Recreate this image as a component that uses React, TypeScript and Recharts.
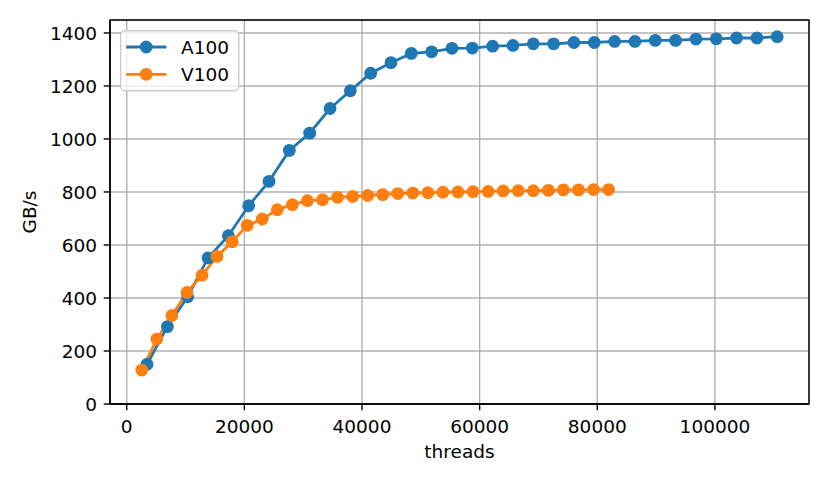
import { LineChart, Line, XAxis, YAxis, CartesianGrid, Legend, ReferenceArea } from "recharts";

const a100Threads = [
  3456, 6912, 10368, 13824, 17280, 20736, 24192, 27648, 31104, 34560, 38016,
  41472, 44928, 48384, 51840, 55296, 58752, 62208, 65664, 69120, 72576, 76032,
  79488, 82944, 86400, 89856, 93312, 96768, 100224, 103680, 107136, 110592,
];
const a100Bandwidth = [
  150, 292, 405, 551, 635, 748, 840, 957, 1022, 1115, 1182, 1248, 1288, 1323,
  1329, 1342, 1343, 1350, 1353, 1359, 1359, 1364, 1364, 1368, 1368, 1372, 1372,
  1377, 1378, 1381, 1381, 1386,
];
const v100Threads = [
  2560, 5120, 7680, 10240, 12800, 15360, 17920, 20480, 23040, 25600, 28160,
  30720, 33280, 35840, 38400, 40960, 43520, 46080, 48640, 51200, 53760, 56320,
  58880, 61440, 64000, 66560, 69120, 71680, 74240, 76800, 79360, 81920,
];
const v100Bandwidth = [
  128, 245, 334, 421, 486, 557, 612, 674, 698, 733, 752, 767, 771, 780, 783,
  787, 790, 794, 796, 797, 799, 800, 801, 802, 804, 805, 805, 806, 808, 808,
  809, 809,
];
const xTicks = [0, 20000, 40000, 60000, 80000, 100000];
const yTicks = [0, 200, 400, 600, 800, 1000, 1200, 1400];

const BLUE = "#1f77b4";
const ORANGE = "#ff7f0e";
const FONT = "DejaVu Sans";
const FS = 18.5;
const DOT_R = 6.4;

const a100Data = a100Threads.map((threads, i) => ({ threads, gbs: a100Bandwidth[i] }));
const v100Data = v100Threads.map((threads, i) => ({ threads, gbs: v100Bandwidth[i] }));

// matplotlib-style 5% autoscale margins (y pinned at 0)
const allX = [...a100Threads, ...v100Threads];
const allY = [...a100Bandwidth, ...v100Bandwidth];
const xLo = Math.min(...allX);
const xHi = Math.max(...allX);
const yLo = Math.min(...allY);
const yHi = Math.max(...allY);
const xDomain: [number, number] = [xLo - 0.05 * (xHi - xLo), xHi + 0.05 * (xHi - xLo)];
const yDomain: [number, number] = [0, yHi + 0.05 * (yHi - yLo)];

const tickStyle = { fill: "#000", fontSize: FS, fontFamily: FONT };
const spine = { stroke: "#000", strokeWidth: 1.4 };

const LegendBox = (props: any) => {
  const items = props.payload || [];
  return (
    <svg width={120} height={62} style={{ display: "block" }}>
      <rect
        x={0.7}
        y={0.7}
        width={118}
        height={60}
        rx={4}
        fill="#fff"
        fillOpacity={0.8}
        stroke="#cccccc"
        strokeWidth={1.4}
      />
      {items.map((item: any, i: number) => {
        const cy = 17 + i * 27.3;
        return (
          <g key={item.value}>
            <line x1={6.2} x2={46.5} y1={cy} y2={cy} stroke={item.color} strokeWidth={2.8} />
            <circle cx={26.2} cy={cy} r={DOT_R} fill={item.color} />
            <text x={61} y={cy} dy="0.36em" fontFamily={FONT} fontSize={FS} fill="#000">
              {item.value}
            </text>
          </g>
        );
      })}
    </svg>
  );
};

export default function App() {
  return (
    <div style={{ position: "absolute", left: 0, top: 0, background: "#fff" }}>
      <LineChart
        width={830}
        height={485}
        margin={{ top: 20, right: 21, bottom: 31, left: 0 }}
      >
        <CartesianGrid stroke="#b0b0b0" strokeWidth={1.4} />
        <XAxis
          dataKey="threads"
          type="number"
          domain={xDomain}
          ticks={xTicks}
          interval={0}
          allowDataOverflow
          height={50}
          tick={tickStyle}
          tickSize={6.3}
          tickMargin={10}
          tickLine={spine}
          axisLine={spine}
          label={() => (
            <text x={459.5} y={458} textAnchor="middle" fontFamily={FONT} fontSize={FS} fill="#000">
              threads
            </text>
          )}
        />
        <YAxis
          type="number"
          domain={yDomain}
          ticks={yTicks}
          interval={0}
          allowDataOverflow
          width={110}
          tick={tickStyle}
          tickSize={6.3}
          tickMargin={6.7}
          tickLine={spine}
          axisLine={spine}
          label={() => (
            <text
              x={35.5}
              y={212}
              transform="rotate(-90 35.5 212)"
              textAnchor="middle"
              fontFamily={FONT}
              fontSize={FS}
              fill="#000"
            >
              GB/s
            </text>
          )}
        />
        <Legend
          layout="vertical"
          align="center"
          verticalAlign="middle"
          wrapperStyle={{ left: 120, top: 30, width: 120, height: 62 }}
          content={<LegendBox />}
        />
        <Line
          data={a100Data}
          dataKey="gbs"
          name="A100"
          stroke={BLUE}
          strokeWidth={2.8}
          dot={{ r: DOT_R, fill: BLUE, stroke: BLUE, strokeWidth: 0 }}
          activeDot={false}
          isAnimationActive={false}
        />
        <Line
          data={v100Data}
          dataKey="gbs"
          name="V100"
          stroke={ORANGE}
          strokeWidth={2.8}
          dot={{ r: DOT_R, fill: ORANGE, stroke: ORANGE, strokeWidth: 0 }}
          activeDot={false}
          isAnimationActive={false}
        />
        {/* axes frame (top and right spines) */}
        <ReferenceArea
          x1={xDomain[0]}
          x2={xDomain[1]}
          y1={yDomain[0]}
          y2={yDomain[1]}
          fill="none"
          stroke="#000"
          strokeWidth={1.4}
          ifOverflow="visible"
        />
      </LineChart>
    </div>
  );
}
